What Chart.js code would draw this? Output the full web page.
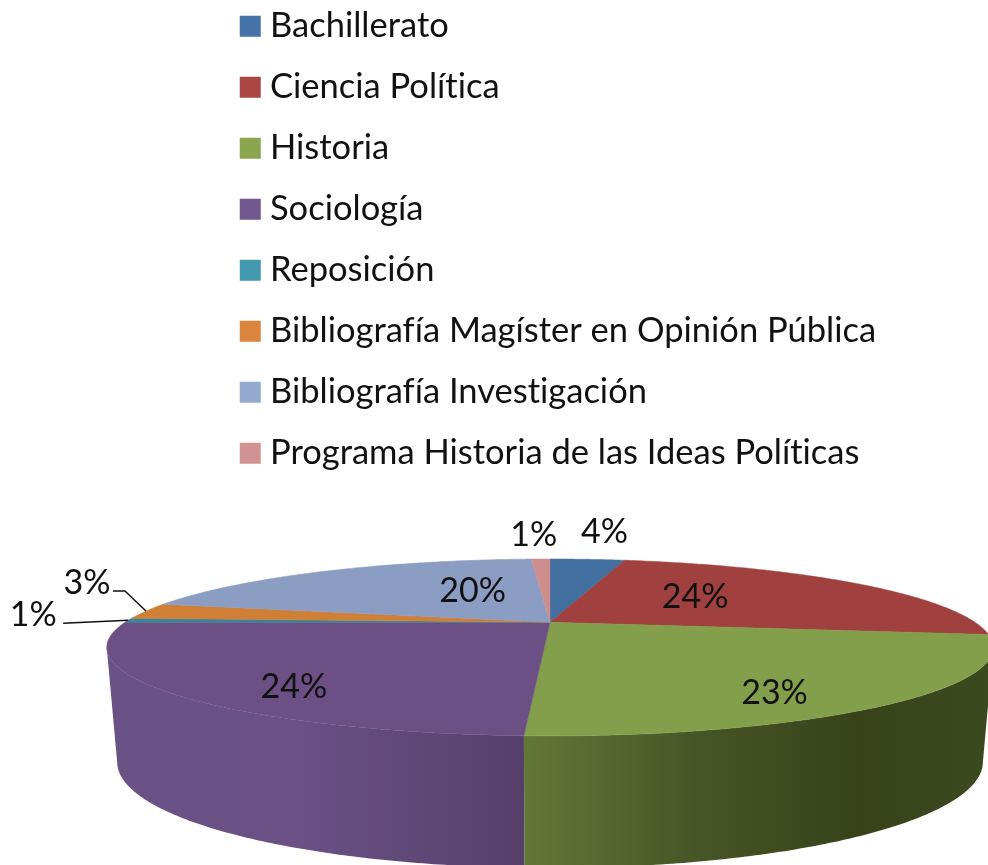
<!DOCTYPE html>
<html>
<head>
<meta charset="utf-8">
<script src="https://cdn.jsdelivr.net/npm/chart.js@4"></script>
<style>
    html, body { margin: 0; background: #fff; }
    canvas { display: block; }
</style>
</head>
<body>
<canvas id="chart_pie" width="988" height="865"></canvas>
<script>
const categories = [
    'Bachillerato',
    'Ciencia Política',
    'Historia',
    'Sociología',
    'Reposición',
    'Bibliografía Magíster en Opinión Pública',
    'Bibliografía Investigación',
    'Programa Historia de las Ideas Políticas',
];
// read from the slice edges, the labels show them rounded
const percentages = [3.6, 23.7, 23.4, 24.3, 0.8, 3.0, 20.3, 0.9];
const legend_colors = ['#4572A7', '#AA4643', '#89A54E', '#71588F', '#4198AF', '#DB843D', '#93A9CF', '#D19392'];
const top_colors = ['#416FA0', '#A0413F', '#839F4B', '#6B4F85', '#3C8398', '#D07F36', '#8B9DC3', '#CF8E8E'];

// side wall shading, left to right [x, colour]
const wall_shades = {
    2: [[524, '#637836'], [700, '#465526'], [860, '#374219'], [988, '#3C4A20']],
    3: [[107, '#6A5286'], [300, '#6A5085'], [524, '#56406A']],
};

// [fraction of radius along the slice's middle, dx, dy]
const label_spots = [[1, 17, -27], [0.43, 4, -7], [0.72, -7, 17], [0.712, -2, 18], [1, -95, -5], [1, -59, -28], [0.303, 0, -14], [1, -7, -24]];
// leader lines, offsets from the slice's outer edge
const leaders = { 4: [[-65, 3]], 5: [[-21, -20], [-33, -20]] };

// the pie is tilted with a perspective, so the centre is not the middle of the ellipse
const persp = 0.284;
const top_face = { cx: 550, cy: 622.3, rx: 425, ry: 81.3 };
const bottom_face = { cx: 550, cy: 732, rx: 415, ry: 97.4 };

const project = (face, theta, r = 1) => {
    const u = r * Math.sin(theta);
    const v = -r * Math.cos(theta);
    const w = 1 - persp * v;
    return { x: face.cx + face.rx * u / w, y: face.cy + face.ry * v / w };
};

const sample_angles = (from, to) => {
    const out = [];
    const steps = Math.max(2, Math.ceil((to - from) / 0.01));
    for (let i = 0; i <= steps; i++) {
        out.push(from + (to - from) * i / steps);
    }
    return out;
};

const tilted_pie = {
    id: 'tilted_pie',
    beforeDraw(chart) {
        // no fi and ti ligatures, the reference has none
        chart.ctx.textRendering = 'optimizeSpeed';
    },
    // the library works out the slices, we only draw them tilted
    beforeDatasetsDraw(chart) {
        const ctx = chart.ctx;
        const arcs = chart.getDatasetMeta(0).data;
        const angles = arcs.map((arc) => [arc.startAngle + Math.PI / 2, arc.endAngle + Math.PI / 2]);

        ctx.save();
        // walls first
        angles.forEach(([from, to], i) => {
            const seen = sample_angles(from, to).filter((t) => -Math.cos(t) >= persp);
            if (seen.length < 2 || !wall_shades[i]) return;
            const gradient = ctx.createLinearGradient(0, 0, 988, 0);
            wall_shades[i].forEach(([x, color]) => gradient.addColorStop(x / 988, color));
            ctx.beginPath();
            seen.forEach((t) => {
                const p = project(top_face, t);
                ctx.lineTo(p.x, p.y);
            });
            seen.slice().reverse().forEach((t) => {
                const p = project(bottom_face, t);
                ctx.lineTo(p.x, p.y);
            });
            ctx.closePath();
            ctx.fillStyle = gradient;
            ctx.fill();
        });

        // top of the pie
        angles.forEach(([from, to], i) => {
            ctx.beginPath();
            ctx.moveTo(top_face.cx, top_face.cy);
            sample_angles(from, to).forEach((t) => {
                const p = project(top_face, t);
                ctx.lineTo(p.x, p.y);
            });
            ctx.closePath();
            ctx.fillStyle = top_colors[i];
            ctx.strokeStyle = top_colors[i];
            ctx.lineWidth = 0.5;
            ctx.fill();
            ctx.stroke();
        });

        // labels and leader lines
        ctx.font = '34px Lato';
        ctx.fillStyle = '#111';
        ctx.textAlign = 'center';
        ctx.textBaseline = 'middle';
        angles.forEach(([from, to], i) => {
            const mid = (from + to) / 2;
            const [r, dx, dy] = label_spots[i];
            const p = project(top_face, mid, r);
            ctx.fillText(Math.round(percentages[i]) + '%', p.x + dx, p.y + dy);
            if (leaders[i]) {
                const edge = project(top_face, mid);
                ctx.beginPath();
                ctx.moveTo(edge.x, edge.y);
                leaders[i].forEach(([ox, oy]) => ctx.lineTo(edge.x + ox, edge.y + oy));
                ctx.strokeStyle = '#111';
                ctx.lineWidth = 1.5;
                ctx.stroke();
            }
        });
        ctx.restore();
        return false;
    },
};

const chart = new Chart(document.getElementById('chart_pie'), {
    type: 'pie',
    data: {
        labels: categories,
        datasets: [{
            data: percentages,
            backgroundColor: legend_colors,
            borderWidth: 0,
        }],
    },
    options: {
        responsive: false,
        animation: false,
        rotation: 0,
        layout: { padding: { left: 221.25, top: -17.5 } },
        plugins: {
            tooltip: { enabled: false },
            legend: {
                position: 'left',
                align: 'start',
                maxWidth: 720,
                labels: {
                    // point style square, lets the text sit closer than the box size would
                    usePointStyle: true,
                    pointStyle: 'rect',
                    boxWidth: 5,
                    boxHeight: 21,
                    padding: 26.5,
                    color: '#111',
                    font: { family: 'Lato', size: 34.5 },
                },
            },
        },
    },
    plugins: [tilted_pie],
});
</script>
</body>
</html>
